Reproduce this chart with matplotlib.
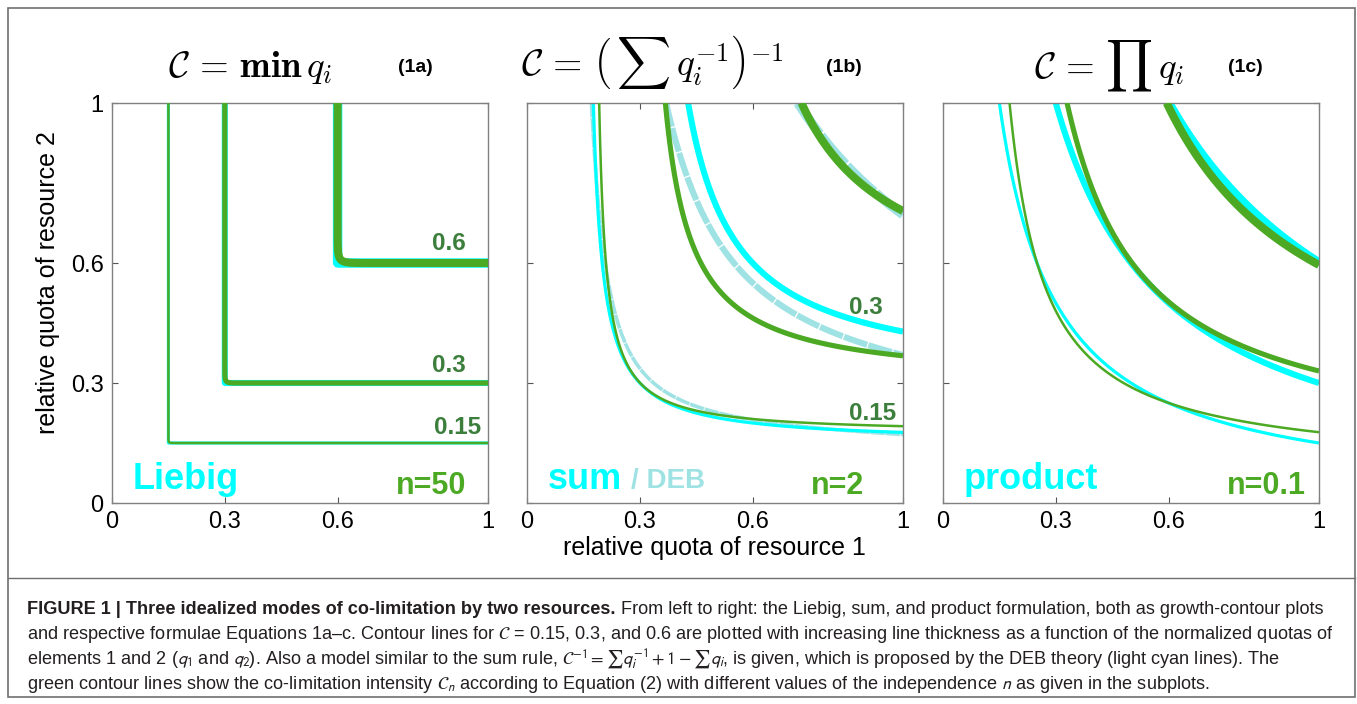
import numpy as np
import matplotlib
matplotlib.use("Agg")
import matplotlib.pyplot as plt
from matplotlib.patches import Rectangle
from matplotlib.lines import Line2D

W, H = 1357, 704

# ------------------------------------------------------------
# data
# ------------------------------------------------------------
levels = [0.15, 0.3, 0.6]
level_labels = ["0.15", "0.3", "0.6"]
n_values = [50, 2, 0.1]
ticks = [0, 0.3, 0.6, 1]
tick_labels = ["0", "0.3", "0.6", "1"]

# where the green contours cross the q1 = 1 border
green_edge_a = [0.15, 0.30, 0.60]
green_edge_b = [0.192, 0.368, 0.73]
green_edge_c = [0.177, 0.33, 0.595]
# curvature exponent of the green contours (fitted by eye)
green_shape = [50, 1.3, 0.3]

# label positions (data units) of the level numbers
label_pos_a = [(0.92, 0.19), (0.895, 0.345), (0.895, 0.65)]
label_pos_b = [(0.92, 0.225), (0.90, 0.49)]

# ------------------------------------------------------------
# style
# ------------------------------------------------------------
CYAN = "#00ffff"
DEB = "#9fe2e4"
GREEN = "#4ca923"
DKGREEN = "#3c7f3c"
SPINE = "#808080"
TXT = "#231f20"
lw_cyan = [2.3, 4.4, 6.8]
lw_green = [1.8, 3.7, 5.8]

plt.rcParams["font.family"] = ["Liberation Sans", "DejaVu Sans"]

q = np.linspace(0.002, 1.0, 900)
Q1, Q2 = np.meshgrid(q, q)

liebig = np.minimum(Q1, Q2)
summ = 1.0 / (1.0 / Q1 + 1.0 / Q2)
deb = 1.0 / (1.0 / Q1 + 1.0 / Q2 + 1.0 - Q1 - Q2)
product = Q1 * Q2


def green_fun(a, b, m):
    return (a ** (-m) + b ** (-m)) ** (-1.0 / m)


def px(x, y):
    return x / W, 1 - y / H


def draw(ax, Z, levs, widths, color, dashes=None, z=2):
    for lev, lw in zip(levs, widths):
        if Z.min() < lev < Z.max():
            cs = ax.contour(Q1, Q2, Z, levels=[lev], colors=[color],
                            linewidths=[lw], zorder=z)
            if dashes is not None:
                cs.set_linestyle((0, dashes))


fig = plt.figure(figsize=(W / 100, H / 100), dpi=100)
fig.patch.set_facecolor("white")

axes = []
for left in [112, 527, 943]:
    x0, y1 = px(left, 503)
    ax = fig.add_axes([x0, y1, 376 / W, 400 / H])
    ax.set_xlim(0, 1)
    ax.set_ylim(0, 1)
    ax.set_xticks(ticks)
    ax.set_xticklabels(tick_labels)
    ax.set_yticks(ticks)
    ax.set_yticklabels(tick_labels)
    ax.tick_params(direction="in", length=4, width=0.8, color="#555555",
                   top=True, right=True, labelsize=17, pad=6)
    for sp in ax.spines.values():
        sp.set_edgecolor(SPINE)
        sp.set_linewidth(1.0)
    axes.append(ax)

axes[1].tick_params(labelleft=False)
axes[2].tick_params(labelleft=False)

# panel a: Liebig
ax = axes[0]
draw(ax, liebig, levels, lw_cyan, CYAN)
glev = [green_fun(1.0, f, green_shape[0]) for f in green_edge_a]
draw(ax, green_fun(Q1, Q2, green_shape[0]), glev, lw_green, GREEN, z=3)
for (x, y), s in zip(label_pos_a, level_labels):
    ax.text(x, y, s, color=DKGREEN, fontsize=17.5, fontweight="bold",
            ha="center", va="center")

# panel b: sum / DEB
ax = axes[1]
draw(ax, deb, levels, [2.6, 4.4, 6.8], DEB, dashes=(4.0, 0.22))
draw(ax, summ, levels, lw_cyan, CYAN)
glev = [green_fun(1.0, f, green_shape[1]) for f in green_edge_b]
draw(ax, green_fun(Q1, Q2, green_shape[1]), glev, lw_green, GREEN, z=3)
for (x, y), s in zip(label_pos_b, level_labels):
    ax.text(x, y, s, color=DKGREEN, fontsize=17.5, fontweight="bold",
            ha="center", va="center")

# panel c: product
ax = axes[2]
draw(ax, product, levels, lw_cyan, CYAN)
glev = [green_fun(1.0, f, green_shape[2]) for f in green_edge_c]
draw(ax, green_fun(Q1, Q2, green_shape[2]), glev, lw_green, GREEN, z=3)

# mode names and n
names = ["Liebig", "sum", "product"]
for ax, name, n in zip(axes, names, n_values):
    ax.text(0.055, 0.035, name, color=CYAN, fontsize=26, fontweight="bold",
            ha="left", va="baseline", transform=ax.transAxes)
    ax.text(0.755, 0.022, "n=%g" % n, color=GREEN, fontsize=22,
            fontweight="bold", ha="left", va="baseline",
            transform=ax.transAxes)

renderer = fig.canvas.get_renderer()
t = axes[1].texts[-2]
bb = t.get_window_extent(renderer)
x_end = axes[1].transAxes.inverted().transform((bb.x1, bb.y0))[0]
axes[1].text(x_end + 0.025, 0.037, "/ DEB", color=DEB, fontsize=20,
             fontweight="bold", ha="left", va="baseline",
             transform=axes[1].transAxes)

# titles
math_titles = [r"$\mathcal{C}\, =\, \mathbf{min}\, q_i$",
               r"$\mathcal{C}\, =\, \left(\,\sum\, q_i^{-1}\right)^{-1}$",
               r"$\mathcal{C}\, =\, \prod\, q_i$"]
title_size = [26.5, 27, 26.5]
title_pos = [(250, 68), (652, 62), (1109, 66)]
tags = ["(1a)", "(1b)", "(1c)"]
tag_pos = [(415, 68), (844, 68), (1245, 68)]
for s, (x, y), fs in zip(math_titles, title_pos, title_size):
    fig.text(*px(x, y), s, fontsize=fs, ha="center", va="center",
             math_fontfamily="cm")
for s, (x, y) in zip(tags, tag_pos):
    fig.text(*px(x, y), s, fontsize=14, fontweight="bold", ha="center",
             va="center")

fig.text(*px(48, 283), "relative quota of resource 2", fontsize=18,
         rotation=90, ha="center", va="center")
fig.text(*px(714, 548), "relative quota of resource 1", fontsize=18,
         ha="center", va="center")

# frame
fig.add_artist(Rectangle(px(7.5, 697), (1355 - 7.5) / W, (697 - 8) / H,
                         transform=fig.transFigure, fill=False,
                         edgecolor="#6f6f6f", linewidth=1.2))
fig.add_artist(Line2D([7.5 / W, 1355 / W], [1 - 578 / H, 1 - 578 / H],
                      transform=fig.transFigure, color="#6f6f6f",
                      linewidth=1.0))

# caption
cap_lines = [
    [("FIGURE 1 | Three idealized modes of co-limitation by two resources.", "bold"),
     (" From left to right: the Liebig, sum, and product formulation, both as growth-contour plots", "normal")],
    [("and respective formulae Equations 1a\u2013c. Contour lines for $\\mathcal{C}$ = 0.15, 0.3, and 0.6 are plotted with increasing line thickness as a function of the normalized quotas of", "normal")],
    [("elements 1 and 2 ($q_1$ and $q_2$). Also a model similar to the sum rule, $\\mathcal{C}^{-1} = \\sum q_i^{-1} + 1 - \\sum q_i$, is given, which is proposed by the DEB theory (light cyan lines). The", "normal")],
    [("green contour lines show the co-limitation intensity $\\mathcal{C}_n$ according to Equation (2) with different values of the independence $n$ as given in the subplots.", "normal")],
]


def line_width(parts, size):
    w = 0
    for s, wt in parts:
        tt = fig.text(0, 0, s, fontsize=size, fontweight=wt,
                      math_fontfamily="stixsans")
        w += tt.get_window_extent(renderer).width
        tt.remove()
    return w


size = 12.0
size = size * 1300 / line_width(cap_lines[0], size)

for i, parts in enumerate(cap_lines):
    x = 27
    y = 614 + 25 * i
    for s, wt in parts:
        tt = fig.text(*px(x, y), s, fontsize=size, fontweight=wt, color=TXT,
                      ha="left", va="baseline", math_fontfamily="stixsans")
        x += tt.get_window_extent(renderer).width

fig.savefig("out.png", dpi=100, facecolor="white")
